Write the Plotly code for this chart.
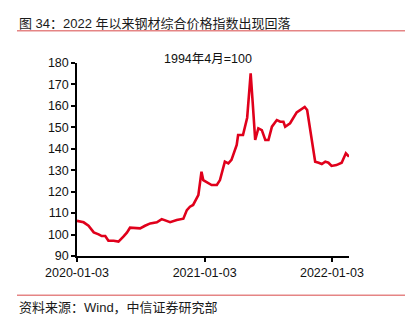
import plotly.graph_objects as go

# Steel composite price index (1994-04 = 100), sampled dates and readings
dates = [
    "2020-01-03", "2020-01-22", "2020-02-05", "2020-02-20", "2020-03-05", "2020-03-14",
    "2020-03-24", "2020-04-02", "2020-04-17", "2020-05-01", "2020-05-15", "2020-05-25",
    "2020-06-03", "2020-06-18", "2020-07-02", "2020-07-16", "2020-07-31", "2020-08-19",
    "2020-09-02", "2020-09-26", "2020-10-15", "2020-11-03", "2020-11-13", "2020-11-22",
    "2020-12-01", "2020-12-16", "2020-12-19", "2020-12-25", "2020-12-30", "2021-01-09",
    "2021-01-23", "2021-02-07", "2021-02-16", "2021-03-02", "2021-03-12", "2021-03-21",
    "2021-04-05", "2021-04-09", "2021-04-23", "2021-05-05", "2021-05-15", "2021-05-21",
    "2021-05-28", "2021-06-06", "2021-06-16", "2021-06-26", "2021-07-05", "2021-07-15",
    "2021-07-29", "2021-08-08", "2021-08-17", "2021-08-22", "2021-09-05", "2021-09-24",
    "2021-10-09", "2021-10-17", "2021-10-24", "2021-11-02", "2021-11-16", "2021-11-26",
    "2021-12-05", "2021-12-15", "2021-12-24", "2022-01-02", "2022-01-16", "2022-01-31",
    "2022-02-12", "2022-02-21",
]
index_values = [
    106.4, 105.7, 104.1, 101.0, 100.1, 99.3,
    99.3, 97.1, 97.1, 96.7, 99.0, 100.9,
    103.2, 103.2, 102.9, 104.1, 105.2, 105.7,
    107.2, 105.8, 106.8, 107.4, 111.4, 113.0,
    113.8, 118.4, 121.5, 129.3, 125.4, 124.6,
    123.1, 123.1, 125.4, 134.0, 133.2, 134.8,
    141.8, 146.4, 146.4, 154.5, 175.2, 161.2,
    144.1, 149.5, 148.7, 144.1, 144.1, 150.3,
    153.4, 152.6, 152.6, 150.3, 151.9, 157.0,
    158.9, 159.5, 158.1, 148.0, 134.0, 133.5,
    132.9, 134.0, 133.5, 132.0, 132.4, 133.5,
    137.9, 136.3,
]

x_ticks = ["2020-01-03", "2021-01-03", "2022-01-03"]
y_ticks = [90, 100, 110, 120, 130, 140, 150, 160, 170, 180]

title_text = "图 34：2022 年以来钢材综合价格指数出现回落"
source_text = "资料来源：Wind，中信证券研究部"
base_note = "1994年4月=100"

FONT = "Arial, 'Liberation Sans', 'Noto Sans CJK SC', sans-serif"
W, H = 417, 322
ML, MR, MT, MB = 77, 68, 63, 66
PW, PH = W - ML - MR, H - MT - MB


def px_x(x):
    return (x - ML) / PW


def px_y(y):
    return (H - MB - y) / PH


fig = go.Figure()
fig.add_trace(go.Scatter(
    x=dates, y=index_values, mode="lines",
    line=dict(color="#e0001b", width=2.6),
    hoverinfo="skip", showlegend=False,
))

rule_color = "#e58585"
fig.add_shape(type="line", xref="paper", yref="paper",
              x0=px_x(17), x1=px_x(405), y0=px_y(30.7), y1=px_y(30.7),
              line=dict(color=rule_color, width=1.5))
fig.add_shape(type="line", xref="paper", yref="paper",
              x0=px_x(17), x1=px_x(405), y0=px_y(295.3), y1=px_y(295.3),
              line=dict(color=rule_color, width=1.5))

fig.add_annotation(text=title_text, xref="paper", yref="paper",
                   x=px_x(17), y=px_y(24), xanchor="left", yanchor="middle",
                   showarrow=False, font=dict(size=13, color="#1a1a1a", family=FONT))
fig.add_annotation(text=source_text, xref="paper", yref="paper",
                   x=px_x(17), y=px_y(307), xanchor="left", yanchor="middle",
                   showarrow=False, font=dict(size=13, color="#1a1a1a", family=FONT))
fig.add_annotation(text=base_note, xref="paper", yref="paper",
                   x=px_x(208), y=px_y(59), xanchor="center", yanchor="middle",
                   showarrow=False, font=dict(size=12.5, color="#111111", family=FONT))

fig.update_layout(
    width=W, height=H,
    margin=dict(l=ML, r=MR, t=MT, b=MB, pad=0),
    paper_bgcolor="white", plot_bgcolor="white",
    font=dict(family=FONT, size=12.5, color="#111111"),
    xaxis=dict(
        type="date", range=["2020-01-03", "2022-02-21"],
        tickmode="array", tickvals=x_ticks, ticktext=x_ticks,
        showgrid=False, zeroline=False,
        showline=True, linecolor="black", linewidth=1.5,
        ticks="outside", ticklen=4, tickwidth=1.5, tickcolor="black",
        tickfont=dict(size=12.5, color="#111111"),
    ),
    yaxis=dict(
        range=[90, 180], tickmode="array", tickvals=y_ticks,
        showgrid=False, zeroline=False,
        showline=True, linecolor="black", linewidth=1.5,
        ticks="outside", ticklen=4, tickwidth=1.5, tickcolor="black",
        tickfont=dict(size=12.5, color="#111111"),
    ),
)

fig.write_html("out.html")
